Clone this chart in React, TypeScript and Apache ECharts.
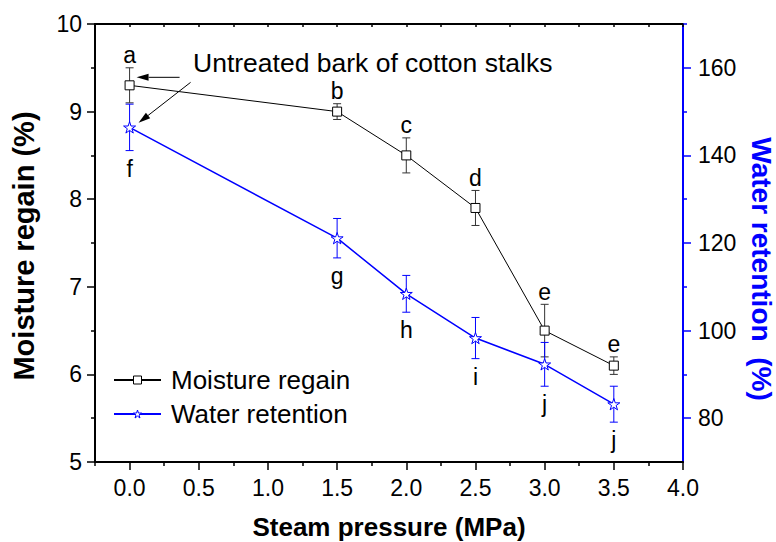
import React, { useEffect, useRef } from 'react';
import * as echarts from 'echarts';

// ---- data ----
const pressure = [0, 1.5, 2.0, 2.5, 3.0, 3.5];
const moistureRegain = [9.3, 9.0, 8.5, 7.9, 6.5, 6.1];
const moistureErr = [0.2, 0.09, 0.2, 0.2, 0.3, 0.1];
const waterRetention = [146.4, 121.1, 108.4, 98.3, 92.3, 83.2];
const retentionErr = [5.3, 4.5, 4.2, 4.7, 5.0, 4.1];
const regainLetters = ['a', 'b', 'c', 'd', 'e', 'e'];
const retentionLetters = ['f', 'g', 'h', 'i', 'j', 'j'];
const xTicks = [0, 0.5, 1, 1.5, 2, 2.5, 3, 3.5, 4];
const xMinorTicks = [-0.25, 0.25, 0.75, 1.25, 1.75, 2.25, 2.75, 3.25, 3.75];
const xAllTicks = [-0.25, 0, 0.25, 0.5, 0.75, 1, 1.25, 1.5, 1.75, 2, 2.25, 2.5, 2.75, 3, 3.25, 3.5, 3.75, 4];
const rightTicks = [80, 100, 120, 140, 160];
const rightMinorTicks = [90, 110, 130, 150, 170];
const seriesNames = ['Moisture regain', 'Water retention'];
const annotationText = 'Untreated bark of cotton stalks';
const xTitle = 'Steam pressure (MPa)';
const leftTitle = 'Moisture regain (%)';
const rightTitle = 'Water retention  (%)';

const FONT = '"Liberation Sans", Arial, Helvetica, sans-serif';
const BLUE = '#0000ff';
const STAR =
  'path://M100,0 L122.45,69.1 L195.1,69.1 L136.33,111.8 L158.8,180.9 L100,138.2 L41.2,180.9 L63.67,111.8 L4.9,69.1 L77.55,69.1 Z';

function errorRenderer(color: string, letters: string[], above: boolean) {
  return (params: any, api: any) => {
    const x = api.value(0);
    const lo = api.value(1);
    const hi = api.value(2);
    const pLo = api.coord([x, lo]);
    const pHi = api.coord([x, hi]);
    const hw = 4;
    const style = { stroke: color, lineWidth: 1 };
    const letter = letters[params.dataIndex];
    const textEl = above
      ? {
          type: 'text',
          x: pHi[0],
          y: pHi[1] - 1,
          style: { text: letter, fill: '#000', font: `23px ${FONT}`, textAlign: 'center', textVerticalAlign: 'bottom' },
        }
      : {
          type: 'text',
          x: pLo[0],
          y: pLo[1] + 6.5,
          style: { text: letter, fill: '#000', font: `23px ${FONT}`, textAlign: 'center', textVerticalAlign: 'top' },
        };
    return {
      type: 'group',
      children: [
        { type: 'line', shape: { x1: pLo[0], y1: pLo[1], x2: pHi[0], y2: pHi[1] }, style },
        { type: 'line', shape: { x1: pLo[0] - hw, y1: pLo[1], x2: pLo[0] + hw, y2: pLo[1] }, style },
        { type: 'line', shape: { x1: pHi[0] - hw, y1: pHi[1], x2: pHi[0] + hw, y2: pHi[1] }, style },
        textEl,
      ],
    };
  };
}

function arrow(tail: number[], tip: number[]) {
  const dx = tip[0] - tail[0];
  const dy = tip[1] - tail[1];
  const len = Math.hypot(dx, dy);
  const ux = dx / len;
  const uy = dy / len;
  const bx = tip[0] - ux * 12;
  const by = tip[1] - uy * 12;
  const px = -uy * 3.5;
  const py = ux * 3.5;
  return [
    { type: 'line', shape: { x1: tail[0], y1: tail[1], x2: bx, y2: by }, style: { stroke: '#000', lineWidth: 1 } },
    {
      type: 'polygon',
      shape: { points: [[tip[0], tip[1]], [bx + px, by + py], [bx - px, by - py]] },
      style: { fill: '#000' },
    },
  ];
}

export default function App() {
  const ref = useRef<HTMLDivElement>(null);

  useEffect(() => {
    if (!ref.current) return;
    const chart = echarts.init(ref.current, undefined, { renderer: 'svg' });

    const xRange = { min: -0.25, max: 4 };
    const labelStyle = { color: '#000', fontSize: 23, fontFamily: FONT };

    const option: any = {
      animation: false,
      backgroundColor: '#fff',
      textStyle: { fontFamily: FONT },
      grid: { left: 95, right: 93, top: 24, bottom: 80, outerBoundsMode: 'none' },
      legend: {
        data: [
          { name: seriesNames[0], itemStyle: { color: '#fff', borderColor: '#000', borderWidth: 1 } },
          { name: seriesNames[1], itemStyle: { color: '#fff', borderColor: BLUE, borderWidth: 1 } },
        ],
        orient: 'vertical',
        left: 113,
        top: 367,
        padding: 0,
        itemWidth: 47,
        itemHeight: 10,
        itemGap: 8,
        selectedMode: false,
        textStyle: { ...labelStyle, fontSize: 26, padding: [0, 0, 0, 5] },
      },
      xAxis: [
        {
          type: 'value',
          position: 'bottom',
          ...xRange,
          axisLine: { show: true, onZero: false, lineStyle: { color: '#000', width: 2 } },
          axisTick: { show: true, customValues: xTicks, length: 8, lineStyle: { color: '#000', width: 1.5 } },
          axisLabel: { ...labelStyle, customValues: xTicks, margin: 14, formatter: (v: number) => v.toFixed(1) },
          splitLine: { show: false },
        },
        {
          type: 'value',
          position: 'bottom',
          ...xRange,
          axisLine: { show: false, onZero: false },
          axisTick: { show: true, customValues: xMinorTicks, length: 4, lineStyle: { color: '#000', width: 1.5 } },
          axisLabel: { show: false },
          splitLine: { show: false },
        },
        {
          type: 'value',
          position: 'top',
          ...xRange,
          axisLine: { show: true, onZero: false, lineStyle: { color: '#000', width: 2 } },
          axisTick: { show: true, inside: true, customValues: xAllTicks, length: 3, lineStyle: { color: '#000', width: 1.5 } },
          axisLabel: { show: false },
          splitLine: { show: false },
        },
      ],
      yAxis: [
        {
          type: 'value',
          position: 'left',
          min: 5,
          max: 10,
          interval: 1,
          axisLine: { show: true, onZero: false, lineStyle: { color: '#000', width: 2 } },
          axisTick: { show: true, length: 8, lineStyle: { color: '#000', width: 1.5 } },
          minorTick: { show: true, splitNumber: 2, length: 4, lineStyle: { color: '#000', width: 1.5 } },
          axisLabel: { ...labelStyle, margin: 13 },
          splitLine: { show: false },
          minorSplitLine: { show: false },
        },
        {
          type: 'value',
          position: 'right',
          min: 70,
          max: 170,
          axisLine: { show: false, onZero: false },
          axisTick: { show: true, customValues: rightMinorTicks, length: 4, lineStyle: { color: BLUE, width: 1.5 } },
          axisLabel: { show: false },
          splitLine: { show: false },
        },
        {
          type: 'value',
          position: 'right',
          min: 70,
          max: 170,
          axisLine: { show: true, onZero: false, lineStyle: { color: BLUE, width: 2 } },
          axisTick: { show: true, customValues: rightTicks, length: 8, lineStyle: { color: BLUE, width: 1.5 } },
          axisLabel: { ...labelStyle, customValues: rightTicks, margin: 15 },
          splitLine: { show: false },
        },
      ],
      series: [
        {
          type: 'custom',
          name: 'regainErr',
          xAxisIndex: 0,
          yAxisIndex: 0,
          silent: true,
          encode: { x: 0, y: [1, 2] },
          data: pressure.map((x, i) => [x, moistureRegain[i] - moistureErr[i], moistureRegain[i] + moistureErr[i]]),
          renderItem: errorRenderer('#333', regainLetters, true),
          z: 1,
        },
        {
          type: 'custom',
          name: 'retentionErr',
          xAxisIndex: 0,
          yAxisIndex: 2,
          silent: true,
          encode: { x: 0, y: [1, 2] },
          data: pressure.map((x, i) => [x, waterRetention[i] - retentionErr[i], waterRetention[i] + retentionErr[i]]),
          renderItem: errorRenderer(BLUE, retentionLetters, false),
          z: 1,
        },
        {
          type: 'line',
          name: seriesNames[0],
          xAxisIndex: 0,
          yAxisIndex: 0,
          data: pressure.map((x, i) => [x, moistureRegain[i]]),
          symbol: 'rect',
          symbolSize: 9,
          itemStyle: { color: '#fff', borderColor: '#000', borderWidth: 1 },
          lineStyle: { color: '#000', width: 1 },
          emphasis: { disabled: true },
          z: 3,
        },
        {
          type: 'line',
          name: seriesNames[1],
          xAxisIndex: 0,
          yAxisIndex: 2,
          data: pressure.map((x, i) => [x, waterRetention[i]]),
          symbol: STAR,
          symbolKeepAspect: true,
          symbolSize: 12,
          itemStyle: { color: '#fff', borderColor: BLUE, borderWidth: 1 },
          lineStyle: { color: BLUE, width: 1.5 },
          emphasis: { disabled: true },
          z: 3,
        },
      ],
    };

    chart.setOption(option);

    const pA = chart.convertToPixel({ seriesIndex: 2 }, [pressure[0], moistureRegain[0]]) as number[];
    const pB = chart.convertToPixel({ seriesIndex: 3 }, [pressure[0], waterRetention[0]]) as number[];
    const tipA = [pA[0] + 7, pA[1] - 8];
    const tailA = [tipA[0] + 43, tipA[1]];
    const tipB = [pB[0] + 9, pB[1] - 4.5];
    const tailB = [tipB[0] + 52, tipB[1] - 40.5];

    chart.setOption({
      graphic: [
        {
          type: 'text',
          x: 193,
          y: 62.5,
          style: { text: annotationText, font: `26.5px ${FONT}`, fill: '#000', textAlign: 'left', textVerticalAlign: 'middle' },
          z: 10,
        },
        ...arrow(tailA, tipA),
        ...arrow(tailB, tipB),
        {
          type: 'text',
          x: 23.6,
          y: 246,
          rotation: Math.PI / 2,
          style: { text: leftTitle, font: `bold 29px ${FONT}`, fill: '#000', textAlign: 'center', textVerticalAlign: 'middle' },
        },
        {
          type: 'text',
          x: 761,
          y: 269,
          rotation: -Math.PI / 2,
          style: { text: rightTitle, font: `bold 28px ${FONT}`, fill: BLUE, textAlign: 'center', textVerticalAlign: 'middle' },
        },
        {
          type: 'text',
          x: 389,
          y: 527,
          style: { text: xTitle, font: `bold 26px ${FONT}`, fill: '#000', textAlign: 'center', textVerticalAlign: 'middle' },
        },
      ],
    });

    return () => chart.dispose();
  }, []);

  return (
    <div
      ref={ref}
      style={{ position: 'fixed', left: 0, top: 0, width: 776, height: 542, background: '#fff' }}
    />
  );
}
